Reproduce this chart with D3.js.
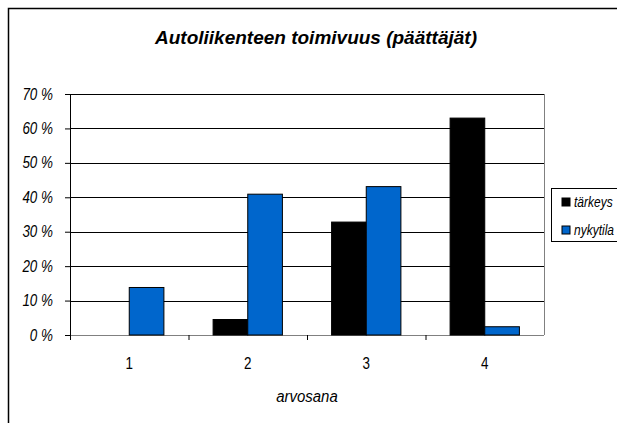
<!DOCTYPE html>
<html>
<head>
<meta charset="utf-8">
<script src="https://cdn.jsdelivr.net/npm/d3@7"></script>
<style>
  body { margin: 0; background: #fff; }
  text { font-family: "Liberation Sans", Arial, sans-serif; }
</style>
</head>
<body>
<div id="chart"></div>
<script>
// Data
var categories = ["1", "2", "3", "4"];
var seriesNames = ["tärkeys", "nykytila"];
var tarkeys = [0, 4.5, 32.8, 63.0];
var nykytila = [13.8, 40.9, 43.1, 2.4];
var yTicks = [0, 10, 20, 30, 40, 50, 60, 70];

(function() {
  var W = 617, H = 423;
  var margin = {top: 94, left: 70},
      width = 544 - 70,
      height = 335 - 94;
  var colors = ["#000000", "#0066cc"];
  var narrow = 0.84; // squeeze to look like the narrow face of the original

  var svg = d3.select("#chart")
    .append("svg")
    .attr("width", W)
    .attr("height", H);

  // outer frame (cropped chart object)
  svg.append("path")
    .attr("d", "M8.5," + (H + 2) + "V8.5H" + (W + 2))
    .attr("fill", "none")
    .attr("stroke", "#000")
    .attr("stroke-width", 1.5);

  svg.append("text")
    .attr("x", 316)
    .attr("y", 44)
    .attr("text-anchor", "middle")
    .style("font-size", "19px")
    .style("font-weight", "bold")
    .style("font-style", "italic")
    .text("Autoliikenteen toimivuus (päättäjät)");

  var g = svg.append("g")
    .attr("transform", "translate(" + margin.left + "," + margin.top + ")");

  var xScale = d3.scaleBand()
    .domain(categories)
    .range([0, width]);

  var xInner = d3.scaleBand()
    .domain(seriesNames)
    .range([0, xScale.bandwidth()])
    .paddingOuter(0.71)
    .paddingInner(0);

  var yScale = d3.scaleLinear()
    .domain([0, 70])
    .range([height, 0]);

  // gridlines
  g.selectAll(".grid")
    .data(yTicks)
    .enter().append("line")
    .attr("class", "grid")
    .attr("x1", 0)
    .attr("x2", width)
    .attr("y1", function(d) { return Math.round(yScale(d)) + 0.5; })
    .attr("y2", function(d) { return Math.round(yScale(d)) + 0.5; })
    .attr("stroke", function(d) { return d === 0 ? "#808080" : "#000"; })
    .attr("stroke-width", 1);

  // right plot border
  g.append("line")
    .attr("x1", width + 0.5).attr("x2", width + 0.5)
    .attr("y1", 0).attr("y2", height)
    .attr("stroke", "#808080");

  var rows = categories.map(function(c, i) {
    return {cat: c, values: [tarkeys[i], nykytila[i]]};
  });

  var groups = g.selectAll(".grp")
    .data(rows)
    .enter().append("g")
    .attr("transform", function(d) { return "translate(" + xScale(d.cat) + ",0)"; });

  groups.selectAll("rect")
    .data(function(d) {
      return d.values.map(function(v, j) { return {s: seriesNames[j], v: v, j: j}; })
        .filter(function(d) { return d.v > 0; });
    })
    .enter().append("rect")
    .attr("x", function(d) { return xInner(d.s); })
    .attr("width", xInner.bandwidth())
    .attr("y", function(d) { return yScale(d.v); })
    .attr("height", function(d) { return height - yScale(d.v); })
    .attr("fill", function(d) { return colors[d.j]; })
    .attr("stroke", "#000")
    .attr("stroke-width", 1);

  // axes
  var yAxis = d3.axisLeft(yScale)
    .tickValues(yTicks)
    .tickSize(5)
    .tickPadding(12)
    .tickFormat(function(d) { return d + " %"; });

  var yg = g.append("g").call(yAxis);
  yg.select(".domain").attr("d", "M0.5,0V" + (height + 5));
  yg.selectAll("text")
    .attr("x", -17 / narrow)
    .attr("transform", "scale(" + narrow + ",1)")
    .style("font-size", "16px")
    .style("font-style", "italic")
    .attr("fill", "#000");

  var xAxis = d3.axisBottom(d3.scaleLinear().domain([0, 4]).range([0, width]))
    .tickValues([1, 2, 3])
    .tickSize(5)
    .tickFormat("");

  var xg = g.append("g")
    .attr("transform", "translate(0," + height + ")")
    .call(xAxis);
  xg.select(".domain").remove();

  g.selectAll(".xlab")
    .data(categories)
    .enter().append("text")
    .attr("x", function(d) { return (xScale(d) + xScale.bandwidth() / 2) / narrow; })
    .attr("y", height + 34)
    .attr("transform", "scale(" + narrow + ",1)")
    .attr("text-anchor", "middle")
    .style("font-size", "16px")
    .text(function(d) { return d; });

  svg.append("text")
    .attr("x", (70 + width / 2) / 0.88)
    .attr("y", 402)
    .attr("transform", "scale(0.88,1)")
    .attr("text-anchor", "middle")
    .style("font-size", "17px")
    .style("font-style", "italic")
    .text("arvosana");

  // legend
  var leg = svg.append("g").attr("transform", "translate(551,188)");
  leg.append("rect")
    .attr("x", 0.5).attr("y", 0.5)
    .attr("width", 80).attr("height", 53)
    .attr("fill", "#fff")
    .attr("stroke", "#000");

  var items = leg.selectAll(".item")
    .data(seriesNames)
    .enter().append("g")
    .attr("transform", function(d, i) { return "translate(11," + (14 + i * 28) + ")"; });

  items.append("rect")
    .attr("x", 0).attr("y", -4)
    .attr("width", 8).attr("height", 8)
    .attr("fill", function(d, i) { return colors[i]; })
    .attr("stroke", "#000");

  items.append("text")
    .attr("x", 12 / 0.8)
    .attr("y", 5)
    .attr("transform", "scale(0.8,1)")
    .style("font-size", "15px")
    .style("font-style", "italic")
    .text(function(d) { return d; });
})();
</script>
</body>
</html>
